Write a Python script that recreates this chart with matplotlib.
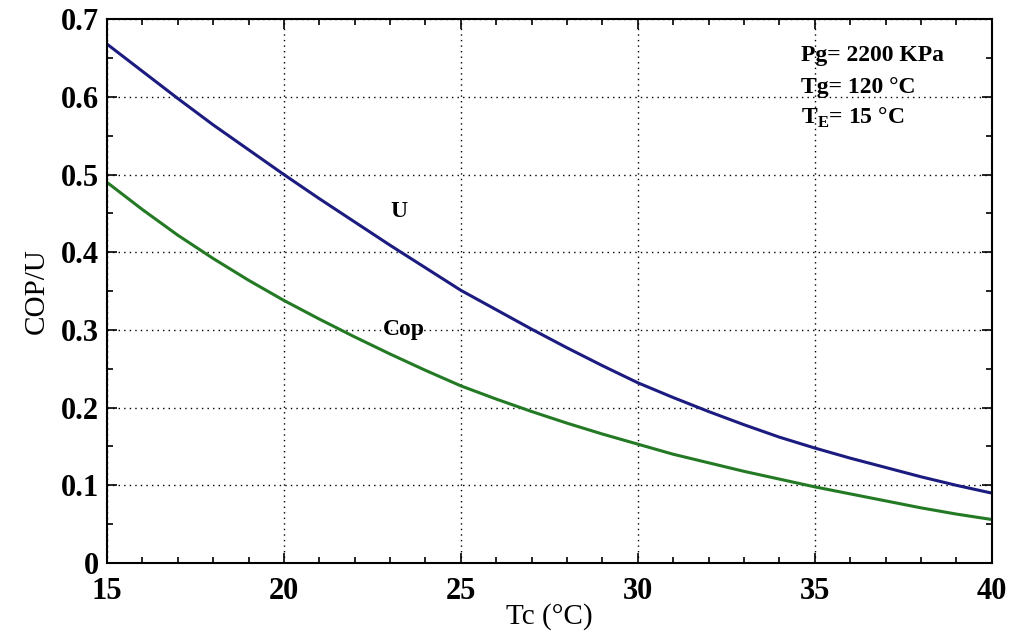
import matplotlib
matplotlib.use("Agg")
import matplotlib.pyplot as plt
import numpy as np

plt.rcParams["font.family"] = ["Liberation Serif", "DejaVu Serif"]
plt.rcParams["mathtext.fontset"] = "custom"
plt.rcParams["mathtext.rm"] = "Liberation Serif"
plt.rcParams["mathtext.bf"] = "Liberation Serif:bold"

tc = np.arange(15, 41)
u = [0.668, 0.633, 0.598, 0.564, 0.532, 0.500, 0.469, 0.439, 0.409, 0.380,
     0.351, 0.326, 0.301, 0.277, 0.254, 0.232, 0.213, 0.195, 0.178, 0.162,
     0.148, 0.135, 0.123, 0.111, 0.100, 0.090]
cop = [0.490, 0.455, 0.422, 0.392, 0.364, 0.338, 0.314, 0.291, 0.269, 0.248,
       0.228, 0.211, 0.195, 0.180, 0.166, 0.153, 0.140, 0.129, 0.118, 0.108,
       0.098, 0.089, 0.080, 0.071, 0.063, 0.056]

fig = plt.figure(figsize=(10.13, 6.4), dpi=100)
ax = fig.add_axes([0.1056, 0.1203, 0.8734, 0.8497])

ax.plot(tc, u, color="#1c1c80", lw=2.2)
ax.plot(tc, cop, color="#247a24", lw=2.2)

ax.set_xlim(15, 40)
ax.set_ylim(0, 0.7)
ax.set_xticks([15, 20, 25, 30, 35, 40])
ax.set_yticks([0, 0.1, 0.2, 0.3, 0.4, 0.5, 0.6, 0.7])
ax.set_yticklabels(["0", "0.1", "0.2", "0.3", "0.4", "0.5", "0.6", "0.7"])
ax.set_xticks(np.arange(15, 41, 1), minor=True)
ax.set_yticks(np.arange(0, 0.71, 0.05), minor=True)
ax.tick_params(which="both", direction="in", top=True, right=True, width=1.2)
ax.tick_params(which="major", length=7, labelsize=22)
ax.tick_params(axis="x", which="major", pad=10)
ax.tick_params(axis="y", which="major", pad=6)
ax.tick_params(which="minor", length=4)
for lab in ax.get_xticklabels() + ax.get_yticklabels():
    lab.set_fontweight("bold")
for s in ax.spines.values():
    s.set_linewidth(1.5)

ax.grid(True, which="major", color="black", linestyle=(0, (1, 3)), lw=1)

ax.set_xlabel("Tc (°C)", fontsize=21, labelpad=-2)
ax.set_ylabel("COP/U", fontsize=21, labelpad=8)

ax.text(34.6, 0.653, "Pg= 2200 KPa", fontsize=17, fontweight="bold", va="center")
ax.text(34.6, 0.612, "Tg= 120 °C", fontsize=17, fontweight="bold", va="center")
ax.text(34.6, 0.573, r"T$_\mathbf{E}$= 15 °C", fontsize=17, fontweight="bold", va="center")
ax.text(23.0, 0.453, "U", fontsize=17, fontweight="bold", va="center")
ax.text(23.4, 0.301, "Cop", fontsize=17, fontweight="bold", va="center", ha="center")

fig.savefig("out.png", dpi=100)
